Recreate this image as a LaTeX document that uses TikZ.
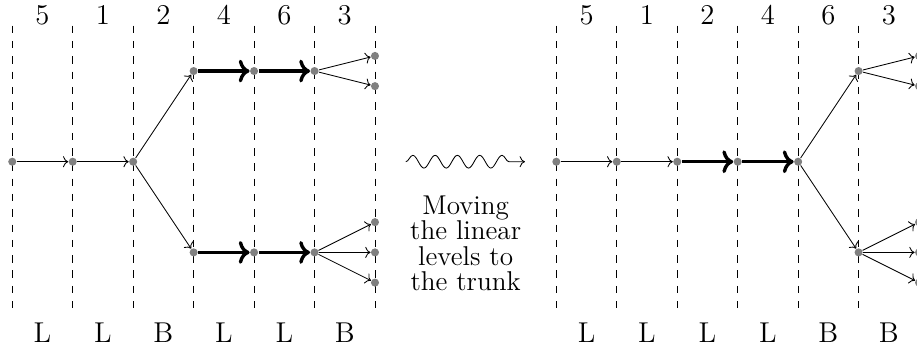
\documentclass[tikz,border=0pt]{standalone}
\usepackage{tikz}
\usetikzlibrary{arrows.meta,positioning,decorations.pathmorphing}

\begin{document}
\begin{tikzpicture}[>=To,
  pt/.style={circle,fill=gray,inner sep=0pt,minimum size=3.8pt},
  heavy/.style={->,line width=1.6pt},
  lbl/.style={inner sep=0pt,font=\fontsize{13.5}{15}\selectfont}]
\useasboundingbox (-0.203,-3.181) rectangle (14.966,2.675);
% columns with level numbers
\foreach \s in {0,9}{
  \foreach \i in {0,...,6}
    \draw[dash pattern=on 3.5pt off 3.7pt] (\s+\i,2.25) -- (\s+\i,-2.5);
  \foreach \n [count=\i from 0] in {5,1,2,4,6,3}
    \node[lbl] (num\s-\i) at (\s+\i+0.5,2.43) {\n};
}
\foreach \t [count=\i from 0] in {L,L,B,L,L,B}
  \node[lbl] (kl\i) at (\i+0.5,-2.83) {\t};
\foreach \t [count=\i from 0] in {L,L,L,L,B,B}
  \node[lbl] (kr\i) at (9+\i+0.5,-2.83) {\t};

% left tree
\node[pt] (a1) at (0,0) {};
\node[pt] (a2) at (1,0) {};
\node[pt] (a3) at (2,0) {};
\node[pt] (u1) at (3,1.5) {};
\node[pt] (u2) at (4,1.5) {};
\node[pt] (u3) at (5,1.5) {};
\node[pt] (d1) at (3,-1.5) {};
\node[pt] (d2) at (4,-1.5) {};
\node[pt] (d3) at (5,-1.5) {};
\node[pt] (ul1) at (6,1.75) {};
\node[pt] (ul2) at (6,1.25) {};
\node[pt] (dl1) at (6,-1) {};
\node[pt] (dl2) at (6,-1.5) {};
\node[pt] (dl3) at (6,-2) {};
\draw[->] (a1) -- (a2);
\draw[->] (a2) -- (a3);
\draw[->] (a3) -- (u1);
\draw[->] (a3) -- (d1);
\draw[heavy] (u1) -- (u2);
\draw[heavy] (u2) -- (u3);
\draw[heavy] (d1) -- (d2);
\draw[heavy] (d2) -- (d3);
\draw[->] (u3) -- (ul1);
\draw[->] (u3) -- (ul2);
\draw[->] (d3) -- (dl1);
\draw[->] (d3) -- (dl2);
\draw[->] (d3) -- (dl3);

% the move
\coordinate (w0) at (6.51,0);
\coordinate (w1) at (8.48,0);
\draw[->,decorate,decoration={snake,amplitude=3pt,segment length=10.5pt,post length=4pt}] (w0) -- (w1);
\node[align=center,font=\fontsize{12.8}{11.8}\selectfont] (txt) at (7.5,-1.35) {Moving\\the linear\\levels to\\the trunk};

% right tree
\node[pt] (b1) at (9,0) {};
\node[pt] (b2) at (10,0) {};
\node[pt] (b3) at (11,0) {};
\node[pt] (b4) at (12,0) {};
\node[pt] (b5) at (13,0) {};
\node[pt] (c1) at (14,1.5) {};
\node[pt] (c2) at (14,-1.5) {};
\node[pt] (cl1) at (15,1.75) {};
\node[pt] (cl2) at (15,1.25) {};
\node[pt] (cl3) at (15,-1) {};
\node[pt] (cl4) at (15,-1.5) {};
\node[pt] (cl5) at (15,-2) {};
\draw[->] (b1) -- (b2);
\draw[->] (b2) -- (b3);
\draw[heavy] (b3) -- (b4);
\draw[heavy] (b4) -- (b5);
\draw[->] (b5) -- (c1);
\draw[->] (b5) -- (c2);
\draw[->] (c1) -- (cl1);
\draw[->] (c1) -- (cl2);
\draw[->] (c2) -- (cl3);
\draw[->] (c2) -- (cl4);
\draw[->] (c2) -- (cl5);
\end{tikzpicture}
\end{document}
